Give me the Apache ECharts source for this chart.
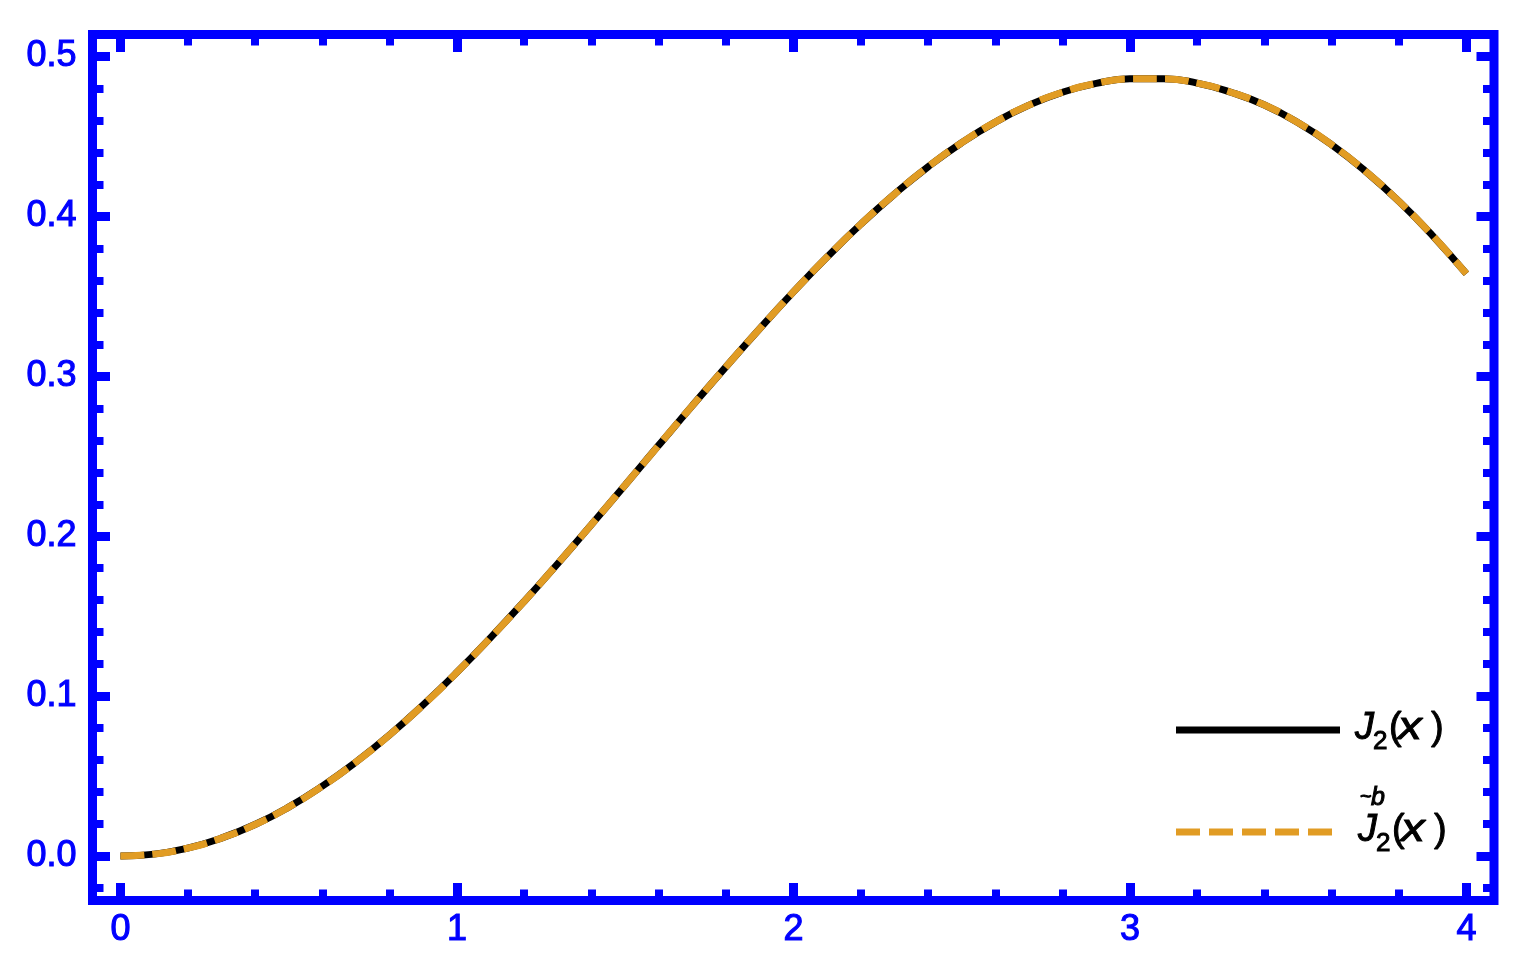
<!DOCTYPE html>
<html>
<head>
<meta charset="utf-8">
<script src="https://cdn.jsdelivr.net/npm/echarts@6/dist/echarts.min.js"></script>
<style>
html,body{margin:0;padding:0;background:#fff;}
#chart{width:1520px;height:960px;}
</style>
</head>
<body>
<div id="chart"></div>
<script>
// ---- data ----
const xValues = [0.0,0.1,0.2,0.3,0.4,0.5,0.6,0.7,0.8,0.9,1.0,1.1,1.2,1.3,1.4,1.5,1.6,1.7,1.8,1.9,2.0,2.1,2.2,2.3,2.4,2.5,2.6,2.7,2.8,2.9,3.0,3.1,3.2,3.3,3.4,3.5,3.6,3.7,3.8,3.9,4.0];
const j2Values = [0.0000,0.0012,0.0050,0.0112,0.0197,0.0306,0.0437,0.0588,0.0758,0.0946,0.1149,0.1366,0.1593,0.1830,0.2074,0.2321,0.2570,0.2818,0.3061,0.3299,0.3528,0.3746,0.3951,0.4139,0.4310,0.4461,0.4590,0.4696,0.4777,0.4832,0.4861,0.4862,0.4834,0.4777,0.4697,0.4586,0.4448,0.4283,0.4093,0.3879,0.3641];
const j2bValues = [0.0000,0.0012,0.0050,0.0112,0.0197,0.0306,0.0437,0.0588,0.0758,0.0946,0.1149,0.1366,0.1593,0.1830,0.2074,0.2321,0.2570,0.2818,0.3061,0.3299,0.3528,0.3746,0.3951,0.4139,0.4310,0.4461,0.4590,0.4696,0.4777,0.4832,0.4861,0.4862,0.4834,0.4777,0.4697,0.4586,0.4448,0.4283,0.4093,0.3879,0.3641];

const xMajorTicks = [0,1,2,3,4];
const xMinorTicks = [0.2,0.4,0.6,0.8,1.2,1.4,1.6,1.8,2.2,2.4,2.6,2.8,3.2,3.4,3.6,3.8];
const yMajorTicks = [0.0,0.1,0.2,0.3,0.4,0.5];
const yMinorTicks = [-0.02,0.02,0.04,0.06,0.08,0.12,0.14,0.16,0.18,0.22,0.24,0.26,0.28,0.32,0.34,0.36,0.38,0.42,0.44,0.46,0.48];

const xMin = -0.083, xMax = 4.082;
const yMin = -0.0278, yMax = 0.5138;

const BLUE = '#0000ff';
const ORANGE = '#e19c24';
const FONT = "'Liberation Sans', Arial, sans-serif";

function xAxisDef(pos, ticks, len, w, labels) {
  return {
    type: 'value', position: pos, min: xMin, max: xMax,
    axisLine: {show: false, onZero: false},
    splitLine: {show: false},
    axisTick: {show: true, inside: true, customValues: ticks, length: len, lineStyle: {color: BLUE, width: w}},
    axisLabel: labels ? {show: true, customValues: ticks, color: BLUE, fontSize: 36, fontFamily: FONT, margin: 12,
      textBorderColor: BLUE, textBorderWidth: 1.1,
      formatter: v => String(Math.round(v))} : {show: false}
  };
}
function yAxisDef(pos, ticks, len, w, labels) {
  return {
    type: 'value', position: pos, min: yMin, max: yMax,
    axisLine: {show: false, onZero: false},
    splitLine: {show: false},
    axisTick: {show: true, inside: true, customValues: ticks, length: len, lineStyle: {color: BLUE, width: w}},
    axisLabel: labels ? {show: true, customValues: ticks, color: BLUE, fontSize: 36, fontFamily: FONT, margin: 16,
      textBorderColor: BLUE, textBorderWidth: 1.1,
      formatter: v => v.toFixed(1)} : {show: false}
  };
}

const chart = echarts.init(document.getElementById('chart'), null, {renderer: 'canvas'});

function t(text, x, y, size, italic, sx) {
  return {
    type: 'text', x: x, y: y, z: 100, scaleX: sx || 1,
    style: {text: text, fill: '#000', fontSize: size, fontFamily: FONT, fontStyle: italic ? 'italic' : 'normal',
      stroke: '#000', lineWidth: 1, verticalAlign: 'middle', align: 'left'}
  };
}

const option = {
  animation: false,
  backgroundColor: '#fff',
  grid: {left: 92.5, right: 26, top: 34.5, bottom: 59.5, show: true, borderColor: BLUE, borderWidth: 9, backgroundColor: 'transparent', containLabel: false},
  xAxis: [
    xAxisDef('bottom', xMajorTicks, 17.5, 9, true),
    xAxisDef('bottom', xMinorTicks, 11, 8, false),
    xAxisDef('top', xMajorTicks, 17.5, 9, false),
    xAxisDef('top', xMinorTicks, 11, 8, false)
  ],
  yAxis: [
    yAxisDef('left', yMajorTicks, 17.5, 9, true),
    yAxisDef('left', yMinorTicks, 11, 8, false),
    yAxisDef('right', yMajorTicks, 17.5, 9, false),
    yAxisDef('right', yMinorTicks, 11, 8, false)
  ],
  series: [
    {name: 'J2', type: 'line', xAxisIndex: 0, yAxisIndex: 0, smooth: true, showSymbol: false, symbol: 'none',
      data: xValues.map((x, i) => [x, j2Values[i]]),
      lineStyle: {color: '#000', width: 7, cap: 'butt'}, z: 2},
    {name: 'J2b', type: 'line', xAxisIndex: 0, yAxisIndex: 0, smooth: true, showSymbol: false, symbol: 'none',
      data: xValues.map((x, i) => [x, j2bValues[i]]),
      lineStyle: {color: ORANGE, width: 7, type: [24, 8], cap: 'butt'}, z: 3}
  ],
  graphic: [
    {type: 'line', z: 100, shape: {x1: 1176, y1: 730, x2: 1340, y2: 730}, style: {stroke: '#000', lineWidth: 7}},
    t('J', 1355, 728.8, 38, true),
    t('2', 1373, 742, 26, false),
    t('(', 1389, 728.8, 38, false),
    t('x', 1398, 728.8, 38, true, 1.25),
    t(')', 1431, 728.8, 38, false),

    {type: 'line', z: 100, shape: {x1: 1176, y1: 832, x2: 1332, y2: 832}, style: {stroke: ORANGE, lineWidth: 7, lineDash: [24, 9]}},
    t('~', 1360, 797, 20, false),
    t('b', 1371, 797.7, 25, true),
    t('J', 1358, 830.8, 38, true),
    t('2', 1376, 844, 26, false),
    t('(', 1392, 830.8, 38, false),
    t('x', 1401, 830.8, 38, true, 1.25),
    t(')', 1434, 830.8, 38, false)
  ]
};
chart.setOption(option);
</script>
</body>
</html>
